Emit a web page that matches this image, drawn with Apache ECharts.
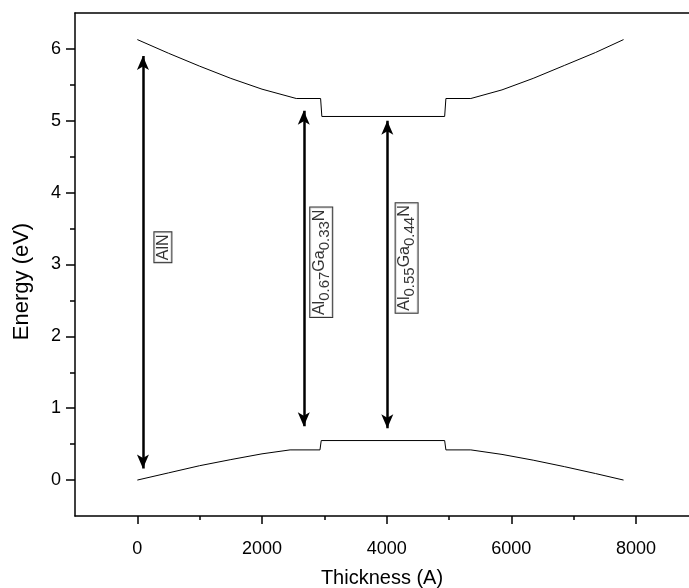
<!DOCTYPE html>
<html>
<head>
<meta charset="utf-8">
<script src="https://cdn.jsdelivr.net/npm/echarts@6/dist/echarts.min.js"></script>
<style>html,body{margin:0;padding:0;background:#fff}#c{width:689px;height:588px}</style>
</head>
<body>
<div id="c"></div>
<script>
// upper curve
var upperX = [0, 500, 1000, 1500, 2000, 2550, 2940, 2960, 4930, 4950, 5350, 5850, 6350, 6850, 7350, 7800];
var upperY = [6.13, 5.94, 5.76, 5.59, 5.44, 5.31, 5.31, 5.06, 5.06, 5.31, 5.31, 5.43, 5.59, 5.77, 5.95, 6.13];
// lower curve
var lowerX = [0, 500, 1000, 1500, 2000, 2450, 2930, 2950, 4930, 4950, 5350, 5850, 6350, 6850, 7350, 7800];
var lowerY = [0.0, 0.10, 0.20, 0.285, 0.365, 0.42, 0.42, 0.55, 0.55, 0.42, 0.42, 0.357, 0.277, 0.187, 0.091, 0.0];
// double arrows
var arrowX = [90, 2670, 4010];
var arrowTop = [5.9, 5.14, 5.0];
var arrowBottom = [0.16, 0.75, 0.72];
// boxed labels
var labelX = [410, 2950, 4320];
var labelY = [3.24, 3.03, 3.09];
var labelTexts = ['{m|AlN}', '{m|Al}{s|0.67}{m|Ga}{s|0.33}{m|N}', '{m|Al}{s|0.55}{m|Ga}{s|0.44}{m|N}'];
// ticks
var xMajor = [0, 2000, 4000, 6000, 8000];
var xMinor = [1000, 3000, 5000, 7000];
var yMajor = [0, 1, 2, 3, 4, 5, 6];
var yMinor = [0.5, 1.5, 2.5, 3.5, 4.5, 5.5];

var FONT = '"Liberation Sans", Arial, sans-serif';
function zip(a, b) { return a.map(function (v, i) { return [v, b[i]]; }); }
function plain(v) { return String(v); }

var chart = echarts.init(document.getElementById('c'), null, {renderer: 'canvas'});
var axLine = {show: true, onZero: false, lineStyle: {color: '#000', width: 1.5}};
var option = {
  animation: false,
  backgroundColor: '#fff',
  grid: {left: 75, top: 13, right: 0, bottom: 72, containLabel: false, outerBoundsMode: 'none'},
  xAxis: [
    {type: 'value', min: -1000, max: 8850, position: 'bottom',
     axisLine: axLine, splitLine: {show: false},
     axisTick: {show: true, customValues: xMajor, length: 8, lineStyle: {color: '#000', width: 1.5}},
     axisLabel: {show: true, customValues: xMajor, formatter: plain, color: '#000', fontSize: 18, fontFamily: FONT, margin: 24},
     name: 'Thickness (A)', nameLocation: 'middle', nameGap: 52,
     nameTextStyle: {color: '#000', fontSize: 20, fontFamily: FONT}},
    {type: 'value', min: -1000, max: 8850, position: 'bottom',
     axisLine: {show: false, onZero: false}, splitLine: {show: false},
     axisTick: {show: true, customValues: xMinor, length: 4, lineStyle: {color: '#000', width: 1.5}},
     axisLabel: {show: false}},
    {type: 'value', min: -1000, max: 8850, position: 'top',
     axisLine: axLine, splitLine: {show: false},
     axisTick: {show: false}, axisLabel: {show: false}}
  ],
  yAxis: [
    {type: 'value', min: -0.5, max: 6.5, position: 'left',
     axisLine: axLine, splitLine: {show: false},
     axisTick: {show: true, customValues: yMajor, length: 9, lineStyle: {color: '#000', width: 1.5}},
     axisLabel: {show: true, customValues: yMajor, formatter: plain, color: '#000', fontSize: 18, fontFamily: FONT, margin: 14},
     name: 'Energy (eV)', nameLocation: 'middle', nameGap: 42, nameRotate: 90,
     nameTextStyle: {color: '#000', fontSize: 22, fontFamily: FONT, padding: [0, 34, 0, 0]}},
    {type: 'value', min: -0.5, max: 6.5, position: 'left',
     axisLine: {show: false, onZero: false}, splitLine: {show: false},
     axisTick: {show: true, customValues: yMinor, length: 5, lineStyle: {color: '#000', width: 1.5}},
     axisLabel: {show: false}}
  ],
  series: [
    {type: 'line', data: zip(upperX, upperY), showSymbol: false, symbol: 'none',
     lineStyle: {color: '#000', width: 1}, xAxisIndex: 0, yAxisIndex: 0,
     markLine: {
       silent: true, symbol: ['arrow', 'arrow'], symbolSize: [9, 14],
       label: {show: false},
       lineStyle: {color: '#000', width: 2.5, type: 'solid'},
       data: arrowX.map(function (x, i) {
         return [{coord: [x, arrowTop[i]]}, {coord: [x, arrowBottom[i]]}];
       })
     }},
    {type: 'line', data: zip(lowerX, lowerY), showSymbol: false, symbol: 'none',
     lineStyle: {color: '#000', width: 1}, xAxisIndex: 0, yAxisIndex: 0},
    {type: 'scatter', symbolSize: 0, xAxisIndex: 0, yAxisIndex: 0,
     data: labelX.map(function (x, i) {
       return {value: [x, labelY[i]], label: {formatter: labelTexts[i]}};
     }),
     label: {show: true, position: 'inside', rotate: 90,
       borderColor: '#000', borderWidth: 1, padding: [1, 2, 0, 2], backgroundColor: '#fff',
       rich: {
         m: {fontSize: 16, fontFamily: FONT, color: '#000', verticalAlign: 'top'},
         s: {fontSize: 15, fontFamily: FONT, color: '#000', padding: [6, 0, 0, 0], verticalAlign: 'bottom'}
       }}}
  ]
};
chart.setOption(option);
</script>
</body>
</html>
